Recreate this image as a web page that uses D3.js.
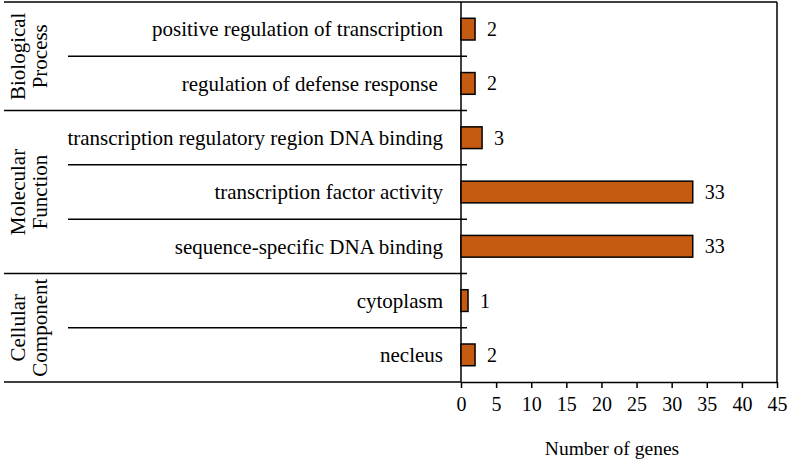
<!DOCTYPE html>
<html>
<head>
<meta charset="utf-8">
<script src="https://cdn.jsdelivr.net/npm/d3@7"></script>
<style>
  body { margin: 0; background: #fff; }
  svg text { font-family: "Liberation Serif", "Times New Roman", serif; fill: #000; }
</style>
</head>
<body>
<svg id="chart"></svg>
<script>
// GO terms, top to bottom
const terms = [
  "positive regulation of transcription",
  "regulation of defense response ",
  "transcription regulatory region DNA binding",
  "transcription factor activity",
  "sequence-specific DNA binding",
  "cytoplasm",
  "necleus"
];
const geneCounts = [2, 2, 3, 33, 33, 1, 2];
const termGroups = ["BP", "BP", "MF", "MF", "MF", "CC", "CC"];
const groupNames = [
  { key: "BP", lines: ["Biological", "Process"] },
  { key: "MF", lines: ["Molecular", "Function"] },
  { key: "CC", lines: ["Cellular", "Component"] }
];
const xTicks = [0, 5, 10, 15, 20, 25, 30, 35, 40, 45];
const xTitle = "Number of genes";

const data = terms.map((t, i) => ({ term: t, value: geneCounts[i], group: termGroups[i] }));

const width = 788, height = 460;
const plotTop = 2, plotBottom = 382, plotLeft = 4, axisX = 461, plotRight = 777;
const barColor = "#C55A11";

const svg = d3.select("#chart").attr("width", width).attr("height", height);

const x = d3.scaleLinear().domain([0, 45]).range([axisX, plotRight]);
const y = d3.scaleBand().domain(terms).range([plotTop, plotBottom])
  .paddingInner(0.6).paddingOuter(0.3);
const step = y.step();
const rowTop = (t) => y(t) - step * 0.3;
const rowBottom = (t) => y(t) + y.bandwidth() + step * 0.3;

function hline(x1, x2, yy) {
  svg.append("line").attr("x1", x1).attr("x2", x2).attr("y1", yy).attr("y2", yy)
    .attr("stroke", "#000").attr("stroke-width", 1.5);
}
function vline(xx, y1, y2) {
  svg.append("line").attr("x1", xx).attr("x2", xx).attr("y1", y1).attr("y2", y2)
    .attr("stroke", "#000").attr("stroke-width", 1.5);
}

// frame
hline(plotLeft, plotRight, plotTop);
vline(plotRight, plotTop, plotBottom);
hline(plotLeft, axisX, plotBottom);
vline(axisX, plotTop, plotBottom);

// row dividers: full width between groups, indented within a group
data.slice(0, -1).forEach((d, i) => {
  const sameGroup = data[i + 1].group === d.group;
  hline(sameGroup ? 68 : plotLeft, axisX + 6, rowBottom(d.term));
});

// x axis
const xAxis = svg.append("g")
  .attr("transform", `translate(0,${plotBottom})`)
  .call(d3.axisBottom(x).tickValues(xTicks).tickSize(6).tickSizeOuter(0).tickPadding(9));
xAxis.select(".domain").attr("stroke", "#000").attr("stroke-width", 1.5);
xAxis.selectAll(".tick line").attr("stroke", "#000").attr("stroke-width", 1.5);
xAxis.selectAll(".tick text")
  .style("font-family", "Liberation Serif, serif").style("font-size", "20px").attr("fill", "#000");

svg.append("text")
  .attr("x", 612).attr("y", 455)
  .attr("text-anchor", "middle")
  .style("font-size", "19.5px")
  .text(xTitle);

// bars
svg.selectAll("rect.bar").data(data).join("rect")
  .attr("class", "bar")
  .attr("x", x(0))
  .attr("y", d => y(d.term))
  .attr("width", d => x(d.value) - x(0))
  .attr("height", y.bandwidth())
  .attr("fill", barColor)
  .attr("stroke", "#000")
  .attr("stroke-width", 1.5);

// value labels
svg.selectAll("text.val").data(data).join("text")
  .attr("class", "val")
  .attr("x", d => x(d.value) + 12)
  .attr("y", d => y(d.term) + y.bandwidth() / 2)
  .attr("dy", "0.35em")
  .style("font-size", "20px")
  .text(d => d.value);

// category labels
svg.selectAll("text.term").data(data).join("text")
  .attr("class", "term")
  .attr("x", axisX - 18)
  .attr("y", d => y(d.term) + y.bandwidth() / 2)
  .attr("dy", "0.35em")
  .attr("text-anchor", "end")
  .style("font-size", "21px")
  .style("white-space", "pre")
  .text(d => d.term);

// group labels (rotated)
groupNames.forEach(g => {
  const rows = data.filter(d => d.group === g.key);
  const cy = (rowTop(rows[0].term) + rowBottom(rows[rows.length - 1].term)) / 2;
  const t = svg.append("text")
    .attr("transform", `translate(25,${cy}) rotate(-90)`)
    .attr("text-anchor", "middle")
    .style("font-size", "21px");
  g.lines.forEach((ln, i) => {
    t.append("tspan").attr("x", 0).attr("y", i * 22).text(ln);
  });
});
</script>
</body>
</html>
